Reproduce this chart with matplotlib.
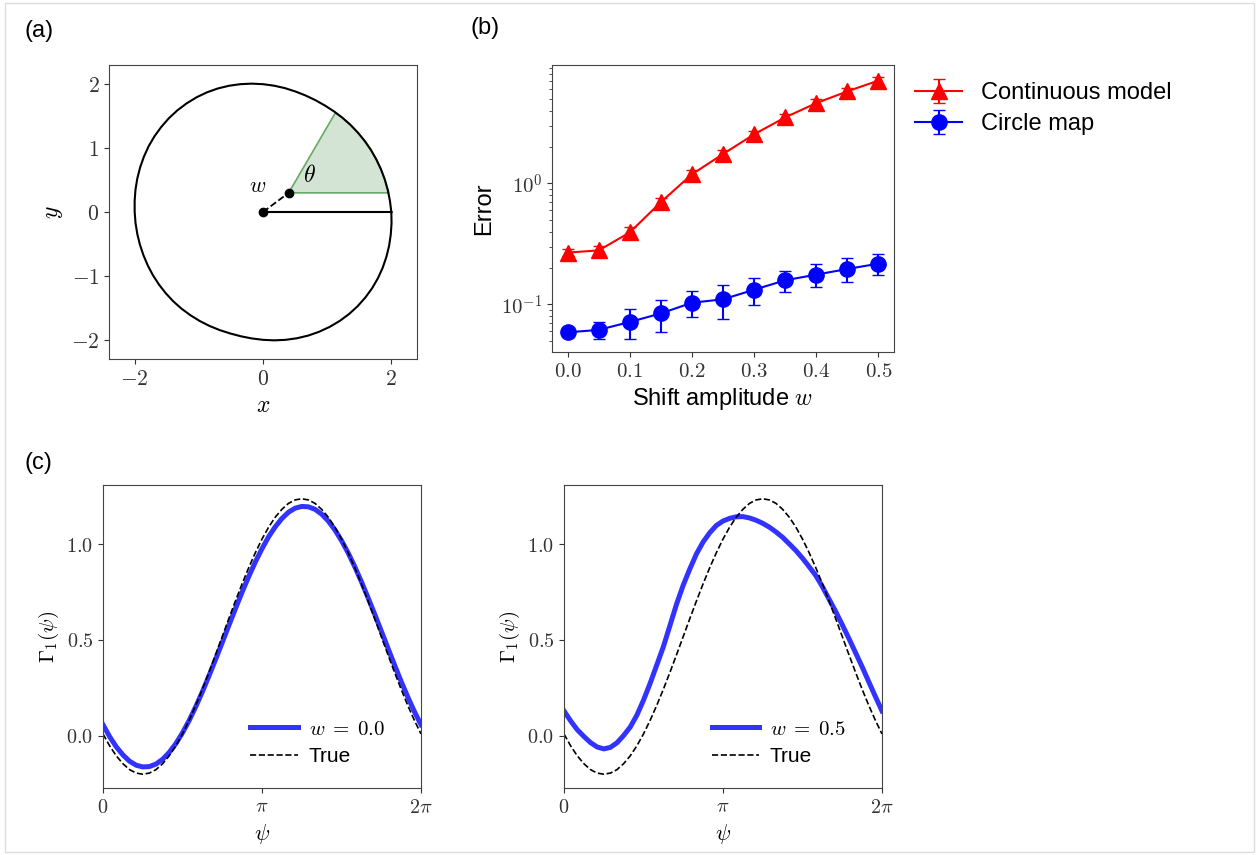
import numpy as np
import matplotlib
matplotlib.use('Agg')
import matplotlib.pyplot as plt
from matplotlib.ticker import FuncFormatter, NullFormatter, FixedLocator
from matplotlib.patches import Polygon, Rectangle

plt.rcParams['font.family'] = ['Liberation Sans', 'DejaVu Sans']
plt.rcParams['mathtext.fontset'] = 'cm'
plt.rcParams['axes.edgecolor'] = '#444444'
plt.rcParams['xtick.color'] = '#333333'
plt.rcParams['ytick.color'] = '#333333'

# ---------------- data: panel (a) ----------------
shape_angle_deg = list(range(0, 360, 5))
shape_radius = [2.000, 1.986, 1.975, 1.965, 1.956, 1.948, 1.942, 1.936, 1.931, 1.928,
                1.925, 1.924, 1.925, 1.931, 1.940, 1.952, 1.968, 1.984, 2.000, 2.016,
                2.031, 2.045, 2.057, 2.066, 2.072, 2.075, 2.076, 2.075, 2.070, 2.065,
                2.058, 2.048, 2.038, 2.028, 2.018, 2.008, 2.000, 1.994, 1.989, 1.985,
                1.982, 1.981, 1.980, 1.979, 1.978, 1.977, 1.975, 1.972, 1.970, 1.968,
                1.967, 1.968, 1.975, 1.986, 2.000, 2.016, 2.031, 2.045, 2.058, 2.068,
                2.076, 2.082, 2.085, 2.085, 2.082, 2.077, 2.069, 2.059, 2.047, 2.035,
                2.022, 2.011]
origin_pt = (0.0, 0.0)
w_pt = (0.4, 0.3)
wedge_end_a = (1.96, 0.30)
wedge_end_b = (1.13, 1.555)
ray_end = (2.0, 0.0)

# ---------------- data: panel (b) ----------------
shift_w = [0.0, 0.05, 0.1, 0.15, 0.2, 0.25, 0.3, 0.35, 0.4, 0.45, 0.5]
cont_err = [0.268, 0.279, 0.393, 0.70, 1.19, 1.75, 2.55, 3.52, 4.62, 5.78, 7.10]
cont_std = [0.018, 0.022, 0.04, 0.065, 0.10, 0.14, 0.19, 0.26, 0.33, 0.42, 0.52]
circ_err = [0.0586, 0.0614, 0.0714, 0.084, 0.103, 0.110, 0.132, 0.158, 0.176, 0.196, 0.217]
circ_std = [0.005, 0.010, 0.0195, 0.0247, 0.0252, 0.0338, 0.0337, 0.0318, 0.0375, 0.044, 0.043]

# ---------------- data: panel (c) ----------------
psi = [k * np.pi / 24 for k in range(49)]
gamma_true = [0.010, -0.052, -0.104, -0.145, -0.176, -0.194, -0.200, -0.194, -0.176, -0.145,
              -0.104, -0.052, 0.010, 0.081, 0.159, 0.243, 0.332, 0.424, 0.518, 0.612,
              0.704, 0.793, 0.877, 0.955, 1.026, 1.088, 1.140, 1.181, 1.212, 1.230,
              1.236, 1.230, 1.212, 1.181, 1.140, 1.088, 1.026, 0.955, 0.877, 0.793,
              0.704, 0.612, 0.518, 0.424, 0.332, 0.243, 0.159, 0.081, 0.010]
gamma_w00 = [0.058, -0.004, -0.057, -0.099, -0.132, -0.153, -0.162, -0.160, -0.147, -0.122,
             -0.086, -0.040, 0.016, 0.080, 0.152, 0.230, 0.313, 0.399, 0.487, 0.576,
             0.664, 0.750, 0.831, 0.907, 0.976, 1.038, 1.090, 1.133, 1.166, 1.187,
             1.196, 1.194, 1.181, 1.156, 1.120, 1.074, 1.018, 0.954, 0.882, 0.804,
             0.721, 0.635, 0.547, 0.458, 0.370, 0.284, 0.203, 0.127, 0.058]
gamma_w05 = [0.130, 0.078, 0.032, -0.003, -0.035, -0.058, -0.068, -0.060, -0.036, 0.002,
             0.046, 0.108, 0.186, 0.274, 0.369, 0.465, 0.576, 0.688, 0.786, 0.871,
             0.949, 1.011, 1.059, 1.097, 1.120, 1.134, 1.142, 1.143, 1.136, 1.124,
             1.108, 1.088, 1.063, 1.035, 1.001, 0.966, 0.926, 0.882, 0.836, 0.778,
             0.713, 0.649, 0.579, 0.508, 0.434, 0.360, 0.282, 0.205, 0.130]

W, H = 1257, 855
fig = plt.figure(figsize=(W / 100, H / 100), dpi=100)


def px_axes(x0, y0, x1, y1):
    return fig.add_axes([x0 / W, 1 - y1 / H, (x1 - x0) / W, (y1 - y0) / H])


def mathfmt(fmt):
    return FuncFormatter(lambda v, p: '$' + format(v, fmt) + '$')


# frame around the figure
fig.add_artist(Rectangle((5 / W, 3 / H), (1254 - 5) / W, (852 - 3) / H,
                         transform=fig.transFigure, fill=False,
                         edgecolor='#dddddd', linewidth=1))

# ---------------- panel (a) ----------------
ax = px_axes(109, 65, 417, 359)
ang = np.deg2rad(shape_angle_deg)
rad = np.array(shape_radius)
cx = rad * np.cos(ang)
cy = rad * np.sin(ang)
ax.plot(np.append(cx, cx[0]), np.append(cy, cy[0]), color='black', lw=1.5)

a0 = np.arctan2(wedge_end_a[1], wedge_end_a[0])
a1 = np.arctan2(wedge_end_b[1], wedge_end_b[0])
sel = (ang > a0) & (ang < a1)
verts = [w_pt, wedge_end_a] + list(zip(cx[sel], cy[sel])) + [wedge_end_b]
ax.add_patch(Polygon(verts, closed=True, facecolor='darkgreen', alpha=0.17,
                     edgecolor='none'))
ax.add_patch(Polygon(verts, closed=True, facecolor='none',
                     edgecolor='#66aa66', lw=1.2))
ax.plot([origin_pt[0], ray_end[0]], [origin_pt[1], ray_end[1]], color='black', lw=1.5)
ax.plot([origin_pt[0], w_pt[0]], [origin_pt[1], w_pt[1]], color='black', lw=1.3, ls='--')
ax.plot([origin_pt[0], w_pt[0]], [origin_pt[1], w_pt[1]], 'o', color='black', ms=6, ls='none')
ax.text(-0.08, 0.40, '$w$', fontsize=16, ha='center', va='center')
ax.text(0.73, 0.57, r'$\theta$', fontsize=17, ha='center', va='center')
ax.set_xlim(-2.4, 2.4)
ax.set_ylim(-2.3, 2.3)
ax.xaxis.set_major_locator(FixedLocator([-2, 0, 2]))
ax.yaxis.set_major_locator(FixedLocator([-2, -1, 0, 1, 2]))
ax.xaxis.set_major_formatter(mathfmt('g'))
ax.yaxis.set_major_formatter(mathfmt('g'))
ax.tick_params(labelsize=15.5)
ax.set_xlabel('$x$', fontsize=17)
ax.set_ylabel('$y$', fontsize=17)

# ---------------- panel (b) ----------------
bx = px_axes(552, 65, 894, 352)
bx.errorbar(shift_w, cont_err, yerr=cont_std, color='red', marker='^', ms=12,
            lw=1.5, capsize=4, label='Continuous model')
bx.errorbar(shift_w, circ_err, yerr=circ_std, color='blue', marker='o', ms=11,
            lw=1.5, capsize=4, label='Circle map')
bx.set_yscale('log')
bx.set_ylim(0.0403, 9.55)
bx.yaxis.set_major_formatter(FuncFormatter(
    lambda v, p: '$10^{%d}$' % int(round(np.log10(v)))))
bx.yaxis.set_minor_formatter(NullFormatter())
bx.xaxis.set_major_locator(FixedLocator(shift_w[::2]))
bx.xaxis.set_major_formatter(mathfmt('.1f'))
bx.tick_params(labelsize=15)
bx.set_xlabel('Shift amplitude $w$', fontsize=17)
bx.set_ylabel('Error', fontsize=17)
bx.legend(loc='upper left', bbox_to_anchor=(915 / W, 1 - 82 / H),
          bbox_transform=fig.transFigure, frameon=False, fontsize=17,
          borderaxespad=0, borderpad=0, labelspacing=0.4, handletextpad=0.8)

# ---------------- panel (c) ----------------
for (x0, x1), gam, lab in [((103, 421), gamma_w00, r'$w\;=\;0.0$'),
                           ((564, 882), gamma_w05, r'$w\;=\;0.5$')]:
    cax = px_axes(x0, 485, x1, 788)
    cax.plot(psi, gam, color='blue', alpha=0.8, lw=3.6, label=lab)
    cax.plot(psi, gamma_true, color='black', lw=1.2, ls='--', label='True')
    cax.set_xlim(0, 2 * np.pi)
    cax.xaxis.set_major_locator(FixedLocator([0, np.pi, 2 * np.pi]))
    cax.set_xticklabels(['$0$', r'$\pi$', r'$2\pi$'])
    cax.yaxis.set_major_locator(FixedLocator([0.0, 0.5, 1.0]))
    cax.yaxis.set_major_formatter(mathfmt('.1f'))
    cax.tick_params(labelsize=14.5)
    cax.set_xlabel(r'$\psi$', fontsize=16)
    cax.set_ylabel(r'$\Gamma_1(\psi)$', fontsize=15)
    cax.legend(loc='lower right', bbox_to_anchor=((x1 - 36 - x0) / (x1 - x0), 22 / 303),
               frameon=False, fontsize=15, handlelength=2.3, handletextpad=0.5,
               borderaxespad=0, borderpad=0, labelspacing=0.4)

fig.text(25 / W, 1 - 20 / H, '(a)', fontsize=17, va='top', ha='left')
fig.text(470 / W, 1 - 17 / H, '(b)', fontsize=17, va='top', ha='left')
fig.text(25 / W, 1 - 452 / H, '(c)', fontsize=17, va='top', ha='left')

fig.savefig('out.png', dpi=100)
